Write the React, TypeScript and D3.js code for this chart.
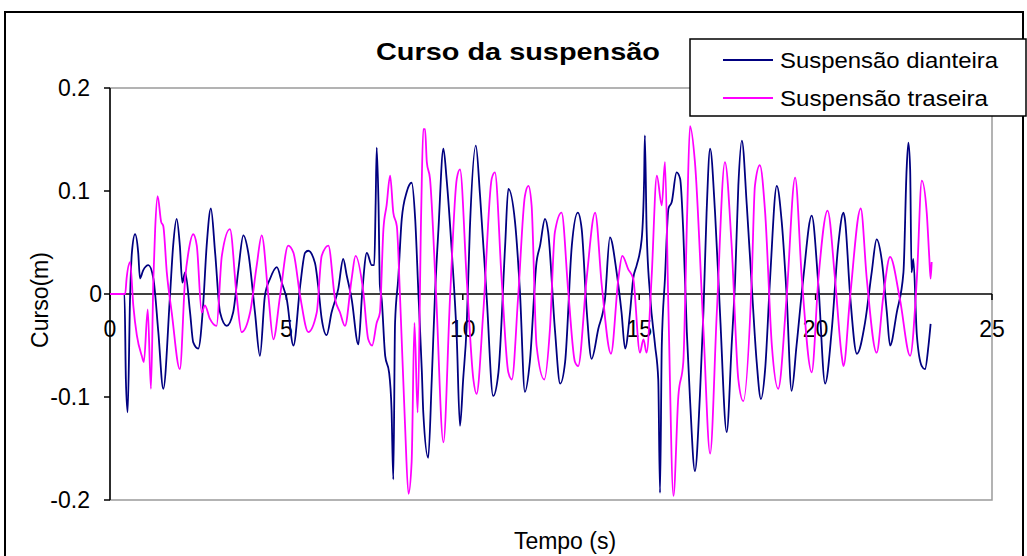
import React from "react";
import * as d3 from "d3";

const title = "Curso da suspensão";
const xTitle = "Tempo (s)";
const yTitle = "Curso(m)";
const seriesNames = ["Suspensão dianteira", "Suspensão traseira"];
const xTicks = [0, 5, 10, 15, 20, 25];
const yTicks = [0.2, 0.1, 0, -0.1, -0.2];
const yTickLabels = ["0.2", "0.1", "0", "-0.1", "-0.2"];

// [tempo (s), curso (m)]
const dianteira: [number, number][] = [
  [0, 0], [0.41, 0], [0.45, -0.083], [0.5, -0.115], [0.57, -0.002], [0.62, 0.04], [0.71, 0.058], [0.8, 0.04], [0.85, 0.015], [0.94, 0.023], [1.09, 0.028], [1.23, 0.015], [1.37, -0.037], [1.51, -0.092], [1.7, -0.002], [1.79, 0.047], [1.89, 0.073], [1.98, 0.047], [2.05, 0.011], [2.13, 0.021], [2.27, -0.018], [2.36, -0.047], [2.5, -0.053], [2.64, -0.011], [2.74, 0.047], [2.86, 0.083],
  [2.98, 0.04], [3.12, -0.018], [3.31, -0.031], [3.49, -0.018], [3.64, 0.024], [3.78, 0.057], [3.92, 0.04], [4.11, -0.018], [4.25, -0.06], [4.39, -0.002], [4.54, 0.015], [4.73, 0.026], [4.87, 0.011], [5.01, -0.005], [5.2, -0.05], [5.39, 0.008], [5.53, 0.04], [5.62, 0.042], [5.81, 0.03],
  [5.9, 0.008], [6.0, -0.024], [6.14, -0.04], [6.28, -0.018], [6.47, 0.005], [6.61, 0.034], [6.71, 0.018], [6.85, -0.005], [7.04, -0.049], [7.15, 0.002], [7.28, 0.04], [7.42, 0.028], [7.49, 0.028], [7.53, 0.089], [7.56, 0.142], [7.61, 0.089], [7.65, 0.008], [7.7, -0.005], [7.8, -0.06], [7.91, -0.076], [7.98, -0.112], [8.03, -0.18], [8.08, -0.028], [8.17, 0.015], [8.27, 0.073], [8.41, 0.099], [8.55, 0.108], [8.65, 0.073], [8.74, 0.002], [8.84, -0.076],
  [8.88, -0.115], [9.02, -0.159], [9.12, -0.083], [9.21, -0.002], [9.31, 0.063], [9.45, 0.141], [9.54, 0.112], [9.69, 0.04], [9.83, -0.044], [9.92, -0.128], [10.01, -0.083], [10.11, -0.031], [10.2, 0.063], [10.37, 0.144], [10.49, 0.095], [10.68, -0.005], [10.86, -0.099], [11.01, -0.076], [11.2, 0.047], [11.29, 0.102], [11.48, 0.07], [11.62, 0.002], [11.76, -0.095],
  [11.9, -0.066], [12.09, 0.031], [12.19, 0.047], [12.33, 0.073], [12.42, 0.06], [12.61, -0.034], [12.76, -0.087], [12.9, -0.066], [13.09, 0.047], [13.26, 0.079], [13.37, 0.063], [13.51, -0.015], [13.65, -0.063], [13.84, -0.034], [14.03, -0.005], [14.17, 0.055], [14.36, 0.021], [14.5, -0.018], [14.6, -0.053], [14.74, -0.018],
  [14.83, 0.015], [14.93, 0.028], [15.07, 0.053], [15.14, 0.112], [15.16, 0.154], [15.21, 0.063], [15.31, -0.002], [15.45, -0.05], [15.54, -0.083], [15.59, -0.193], [15.64, -0.05], [15.73, 0.015], [15.83, 0.083], [15.92, 0.089], [16.06, 0.118], [16.16, 0.112], [16.25, 0.06], [16.35, -0.037], [16.44, -0.102], [16.58, -0.172], [16.72, -0.099], [16.82, -0.018], [16.91, 0.079], [17.01, 0.141], [17.15, 0.079], [17.29, -0.018], [17.48, -0.134], [17.62, -0.05], [17.72, 0.015],
  [17.81, 0.105], [17.91, 0.149], [18.05, 0.086], [18.19, 0.008], [18.33, -0.066], [18.45, -0.102], [18.57, -0.073], [18.71, 0.015], [18.9, 0.105], [19.04, 0.07], [19.18, -0.002], [19.32, -0.094], [19.46, -0.05], [19.65, 0.015], [19.89, 0.076], [20.08, 0.008], [20.27, -0.087], [20.46, -0.034], [20.64, 0.047], [20.79, 0.079],
  [20.83, 0.073], [20.98, -0.002], [21.17, -0.058], [21.4, -0.028], [21.59, 0.021], [21.73, 0.053], [21.87, 0.034], [22.02, -0.018], [22.11, -0.05], [22.3, -0.018], [22.49, 0.021], [22.58, 0.121], [22.63, 0.147], [22.68, 0.121], [22.72, 0.021], [22.77, 0.034], [22.87, -0.04], [23.01, -0.07], [23.1, -0.073], [23.2, -0.05], [23.26, -0.029],
];

const traseira: [number, number][] = [
  [0, 0], [0.43, 0], [0.47, 0.015], [0.57, 0.031], [0.66, -0.011], [0.76, -0.04], [0.9, -0.06], [0.96, -0.066], [1.07, -0.015], [1.16, -0.092], [1.23, 0.015], [1.28, 0.063], [1.35, 0.095], [1.45, 0.07], [1.51, 0.066], [1.61, 0.021], [1.75, -0.018], [1.98, -0.073], [2.13, 0.015], [2.22, 0.04], [2.36, 0.058], [2.46, 0.047], [2.6, -0.018], [2.69, -0.011], [2.83, -0.024],
  [3.02, -0.031], [3.17, 0.037], [3.4, 0.063], [3.59, -0.002], [3.73, -0.037], [3.97, -0.018], [4.16, 0.028], [4.3, 0.057], [4.49, -0.002], [4.63, -0.044], [4.82, -0.002], [5.05, 0.047], [5.2, 0.04], [5.39, -0.002], [5.62, -0.037], [5.86, -0.018],
  [6.0, 0.037], [6.19, 0.047], [6.38, -0.005], [6.52, -0.018], [6.66, -0.031], [6.85, 0.015], [6.96, 0.037], [7.18, 0.002], [7.32, -0.044], [7.43, -0.05], [7.56, -0.028], [7.65, -0.018], [7.75, 0.063], [7.84, 0.086], [7.94, 0.115], [8.03, 0.079], [8.13, 0.066], [8.22, -0.002], [8.36, -0.125], [8.46, -0.194], [8.55, -0.163], [8.63, -0.028], [8.72, -0.115], [8.82, 0.079], [8.88, 0.16],
  [8.93, 0.16], [8.98, 0.128], [9.07, 0.112], [9.24, 0.002], [9.45, -0.144], [9.64, -0.002], [9.83, 0.112], [9.92, 0.121], [10.11, 0.015], [10.3, -0.083], [10.39, -0.097], [10.58, -0.018], [10.82, 0.112], [10.91, 0.118], [11.1, 0.015], [11.29, -0.076], [11.39, -0.083], [11.57, -0.002], [11.76, 0.095], [11.86, 0.105],
  [11.95, 0.086], [12.09, -0.05], [12.31, -0.083], [12.47, -0.034], [12.61, 0.06], [12.8, 0.079], [12.99, 0.002], [13.18, -0.066], [13.27, -0.07], [13.51, 0.015], [13.75, 0.079], [13.94, 0.008], [14.2, -0.058], [14.41, 0.015], [14.52, 0.037], [14.69, 0.024],
  [14.83, 0.015], [15.02, -0.057], [15.12, -0.044], [15.21, -0.057], [15.35, 0.015], [15.5, 0.115], [15.64, 0.086], [15.73, 0.128], [15.83, -0.018], [15.97, -0.196], [16.11, -0.099], [16.25, -0.066], [16.36, 0.079], [16.44, 0.163], [16.58, 0.128], [16.82, -0.034], [17.01, -0.155], [17.2, -0.018], [17.43, 0.128], [17.62, 0.047], [17.81, -0.083],
  [17.95, -0.104], [18.19, 0.015], [18.28, 0.105], [18.42, 0.125], [18.57, 0.079], [18.76, -0.05], [18.94, -0.092], [19.18, -0.002], [19.42, 0.113], [19.61, 0.015], [19.89, -0.076], [20.08, 0.015], [20.34, 0.081], [20.55, 0.015], [20.74, -0.06],
  [20.79, -0.07], [20.98, -0.002], [21.28, 0.083], [21.45, 0.015], [21.73, -0.057], [21.92, -0.002], [22.11, 0.036], [22.39, -0.005], [22.68, -0.06], [22.87, 0.015], [23.01, 0.11], [23.15, 0.079], [23.22, 0.037], [23.26, 0.015], [23.29, 0.031],
];

const colors = ["#000080", "#FF00FF"];

export default function App() {
  const W = 1027;
  const H = 556;
  const plot = { left: 110, right: 992, top: 88, bottom: 500 };
  const x = d3.scaleLinear().domain([0, 25]).range([plot.left, plot.right]);
  const y = d3.scaleLinear().domain([-0.2, 0.2]).range([plot.bottom, plot.top]);
  const line = d3
    .line<[number, number]>()
    .x((d) => x(d[0]))
    .y((d) => y(d[1]))
    .curve(d3.curveMonotoneX);
  const font = "'Liberation Sans', Arial, sans-serif";
  const series = [dianteira, traseira];

  return (
    <svg
      width={W}
      height={H}
      style={{ position: "absolute", left: 0, top: 0, background: "#fff" }}
      fontFamily={font}
    >
      <rect x={0} y={0} width={W} height={H} fill="#fff" />
      {/* outer chart border */}
      <rect x={5} y={12} width={1018} height={560} fill="#fff" stroke="#000" strokeWidth={2} />
      {/* plot area */}
      <rect
        x={plot.left}
        y={plot.top}
        width={plot.right - plot.left}
        height={plot.bottom - plot.top}
        fill="#fff"
        stroke="#9a9a9a"
        strokeWidth={1.5}
      />
      {/* y axis */}
      <line x1={plot.left} x2={plot.left} y1={plot.top} y2={plot.bottom} stroke="#000" strokeWidth={1.5} />
      {yTicks.map((t, i) => (
        <g key={"yt" + t}>
          <line x1={plot.left - 6} x2={plot.left} y1={y(t)} y2={y(t)} stroke="#000" strokeWidth={1.5} />
          <text
            x={t === 0 ? plot.left - 8 : plot.left - 20}
            y={y(t) + 8}
            textAnchor="end"
            fontSize={23}
            fill="#000"
          >
            {yTickLabels[i]}
          </text>
        </g>
      ))}
      {/* x axis at zero */}
      <line x1={plot.left} x2={plot.right} y1={y(0)} y2={y(0)} stroke="#000" strokeWidth={1.5} />
      {xTicks.map((t) => (
        <g key={"xt" + t}>
          <line x1={x(t)} x2={x(t)} y1={y(0)} y2={y(0) + 6} stroke="#000" strokeWidth={1.5} />
          <text x={x(t)} y={y(0) + 43} textAnchor="middle" fontSize={23} fill="#000">
            {t}
          </text>
        </g>
      ))}
      {/* series */}
      {series.map((s, i) => (
        <path
          key={"s" + i}
          d={line(s) || ""}
          fill="none"
          stroke={colors[i]}
          strokeWidth={1.8}
          strokeLinejoin="round"
        />
      ))}
      {/* title */}
      <text
        x={376}
        y={60}
        fontSize={24}
        fontWeight="bold"
        textLength={284}
        lengthAdjust="spacingAndGlyphs"
        fill="#000"
      >
        {title}
      </text>
      {/* axis titles */}
      <text
        transform={`translate(48,300) rotate(-90)`}
        textAnchor="middle"
        fontSize={23}
        fill="#000"
      >
        {yTitle}
      </text>
      <text x={565} y={549} textAnchor="middle" fontSize={23} fill="#000">
        {xTitle}
      </text>
      {/* legend */}
      <rect x={690} y={39} width={336} height={77} fill="#fff" stroke="#000" strokeWidth={1.5} />
      {seriesNames.map((n, i) => (
        <g key={"lg" + i}>
          <line x1={723} x2={773} y1={60 + i * 38} y2={60 + i * 38} stroke={colors[i]} strokeWidth={1.8} />
          <text
            x={780}
            y={60 + i * 38 + 8}
            fontSize={22}
            textLength={i === 0 ? 218 : 208}
            lengthAdjust="spacingAndGlyphs"
            fill="#000"
          >
            {n}
          </text>
        </g>
      ))}
    </svg>
  );
}
